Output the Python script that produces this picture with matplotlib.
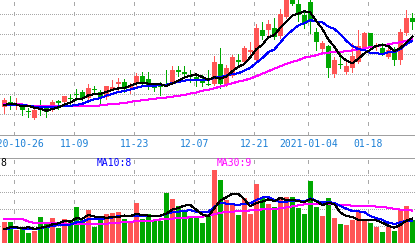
import numpy as np
import matplotlib
matplotlib.use("Agg")
import matplotlib.pyplot as plt

# ---------------- data ----------------
opens = [20.35, 20.60, 20.50, 20.40, 20.18, 19.84, 20.35, 20.33, 20.20, 20.65,
         20.62, 20.83, 21.03, 21.12, 20.83, 21.29, 21.10, 20.85, 21.29, 21.54,
         21.62, 21.34, 21.53, 21.90, 21.75, 21.35, 21.43, 21.48, 21.54, 22.23,
         22.10, 21.98, 21.85, 21.68, 21.53, 21.50, 22.50, 21.45, 21.90, 22.70,
         22.60, 23.09, 22.70, 24.20, 24.20, 24.29, 23.92, 24.84, 25.80, 25.50,
         24.95, 25.62, 24.12, 23.24, 23.40, 22.00, 22.50, 22.12, 22.32, 22.62,
         23.29, 24.04, 23.35, 23.32, 22.87, 23.12, 22.70, 24.04, 24.79]
closes = [20.73, 20.54, 20.58, 20.20, 20.13, 20.24, 20.23, 20.13, 20.62, 20.55,
          20.90, 20.75, 20.98, 20.79, 21.32, 21.23, 20.83, 21.40, 21.39, 21.62,
          21.29, 21.49, 21.90, 21.58, 21.40, 21.30, 21.38, 21.43, 22.20, 22.13,
          22.03, 21.85, 21.75, 21.55, 21.48, 22.62, 21.50, 22.30, 22.84, 22.60,
          23.32, 23.20, 24.30, 23.90, 24.50, 23.88, 25.00, 25.75, 25.50, 24.95,
          24.50, 24.70, 23.62, 23.54, 22.32, 22.70, 22.45, 22.40, 22.90, 23.40,
          24.04, 23.35, 23.43, 23.04, 23.20, 22.70, 24.12, 24.79, 24.62]
highs = [20.83, 20.90, 20.80, 20.45, 20.30, 20.25, 20.70, 20.45, 20.74, 20.74,
         20.93, 21.03, 21.29, 21.24, 21.50, 21.40, 21.20, 21.43, 21.70, 21.79,
         21.74, 21.57, 22.08, 22.10, 22.10, 21.57, 21.60, 22.20, 22.40, 22.40,
         22.40, 22.20, 22.00, 21.95, 22.20, 22.90, 23.29, 22.45, 22.95, 23.00,
         23.40, 23.62, 24.50, 24.60, 24.70, 24.79, 25.24, 25.95, 25.90, 25.70,
         25.12, 25.75, 24.29, 23.68, 23.45, 22.85, 23.10, 22.65, 23.54, 24.20,
         24.12, 24.05, 23.57, 23.57, 23.29, 23.37, 24.24, 25.20, 25.07]
lows = [20.08, 20.29, 20.25, 19.95, 19.88, 19.75, 19.98, 19.88, 20.18, 20.28,
        20.60, 20.45, 20.70, 20.70, 20.70, 21.04, 20.50, 20.75, 21.20, 21.20,
        21.12, 21.05, 21.30, 21.43, 21.29, 21.17, 20.95, 21.40, 21.50, 21.90,
        21.90, 21.62, 21.40, 21.40, 21.45, 21.48, 21.30, 21.40, 21.85, 22.45,
        22.55, 23.00, 22.62, 23.75, 23.80, 23.75, 23.80, 24.80, 25.45, 24.67,
        24.29, 24.05, 23.20, 23.04, 21.87, 21.85, 22.29, 22.00, 22.10, 22.54,
        23.20, 23.20, 23.20, 22.95, 22.79, 22.45, 22.50, 23.95, 24.24]
volumes = [7.47, 7.47, 6.56, 6.73, 6.12, 6.39, 8.08, 7.35, 7.96, 6.71,
           7.82, 7.71, 9.27, 7.74, 8.88, 6.92, 7.71, 8.41, 8.55, 8.68,
           7.80, 7.32, 9.74, 7.82, 8.41, 7.55, 7.55, 10.92, 10.18, 9.35,
           8.92, 7.88, 8.12, 7.39, 8.38, 13.59, 12.41, 10.00, 9.56, 8.29,
           10.29, 8.41, 11.94, 10.35, 9.59, 9.26, 10.39, 10.45, 10.45, 9.12,
           8.45, 12.21, 9.27, 8.18, 10.29, 7.94, 7.24, 7.12, 7.71, 8.61,
           7.71, 7.35, 6.88, 6.33, 6.92, 6.44, 9.04, 9.32, 7.65]

# moving-average values for the first days (their history is outside the view)
ma5_head = [20.49, 20.50, 20.50, 20.40]
ma10_head = [20.47, 20.47, 20.47, 20.47, 20.43, 20.39, 20.37, 20.37, 20.37]
ma30 = [20.54, 20.54, 20.54, 20.50, 20.43, 20.42, 20.42, 20.42, 20.42, 20.42,
        20.42, 20.42, 20.42, 20.42, 20.42, 20.42, 20.45, 20.49, 20.52, 20.54,
        20.57, 20.62, 20.68, 20.70, 20.74, 20.78, 20.82, 20.84, 20.88, 20.93,
        20.97, 21.04, 21.09, 21.18, 21.23, 21.30, 21.39, 21.47, 21.55, 21.64,
        21.70, 21.79, 21.90, 22.03, 22.15, 22.28, 22.40, 22.52, 22.62, 22.70,
        22.83, 22.88, 22.95, 23.04, 23.08, 23.10, 23.12, 23.15, 23.19, 23.24,
        23.29, 23.35, 23.40, 23.45, 23.49, 23.55, 23.60, 23.67, 23.75]
vol_ma5_head = [6.61, 6.85, 6.85, 6.71]
vol_ma10_head = [6.65, 6.71, 6.73, 6.71, 6.59, 6.59, 6.73, 6.88, 7.00]
vol_ma30 = [7.82, 7.82, 7.82, 7.82, 7.53, 7.35, 7.29, 7.29, 7.29, 7.29,
            7.29, 7.24, 7.24, 7.24, 7.24, 7.24, 7.24, 7.27, 7.32, 7.35,
            7.47, 7.51, 7.53, 7.53, 7.59, 7.65, 7.76, 7.82, 7.86, 7.91,
            7.94, 8.02, 8.06, 8.09, 8.24, 8.35, 8.53, 8.65, 8.68, 8.71,
            8.76, 8.82, 8.88, 8.94, 8.96, 9.00, 9.06, 9.18, 9.29, 9.41,
            9.53, 9.59, 9.59, 9.59, 9.55, 9.53, 9.47, 9.41, 9.39, 9.35,
            9.35, 9.32, 9.27, 9.24, 9.12, 9.00, 8.92, 8.85, 8.80]

tick_pos = [2, 12, 22, 32, 42, 51, 61]
tick_labels = ["2020-10-26", "11-09", "11-23", "12-07", "12-21", "2021-01-04", "01-18"]
vol_labels = ["8", "MA10:8", "MA30:9"]

# ---------------- helpers ----------------
def moving_avg(values, n, head):
    v = np.asarray(values, float)
    out = np.empty(len(v))
    for i in range(len(v)):
        out[i] = v[i - n + 1:i + 1].mean() if i >= n - 1 else head[i]
    return out

RED = "#FF5555"
GREEN = "#00A800"
GRID = "#A8A8A8"
FRAME = "#A0A0A0"
DATE_BLUE = "#1A7FD6"

W, H = 415, 243
fig = plt.figure(figsize=(W / 100, H / 100), dpi=100)
fig.patch.set_facecolor("white")

price_top, price_bot = 0, 134.5
vol_top = 157.7
axp = fig.add_axes([0, (H - price_bot) / H, 1, (price_bot - price_top) / H])
axv = fig.add_axes([0, 0, 1, (H - vol_top) / H])

n = len(closes)
x = np.arange(n)
o = np.array(opens); c = np.array(closes)
hi = np.array(highs); lo = np.array(lows)
up = c >= o
cols = [RED if u else GREEN for u in up]

xlim = (-4.3 / 6, (W - 4.3) / 6)
lw_px = 0.72
for ax in (axp, axv):
    ax.set_xlim(*xlim)
    ax.set_xticks([])
    ax.set_yticks([])
    for s in ax.spines.values():
        s.set_visible(False)
    for t in tick_pos:
        ax.axvline(t - 0.33, color=GRID, lw=lw_px, dashes=(4, 6), zorder=0,
                   antialiased=False)

axp.set_ylim(19.0, 25.7)
axv.set_ylim(5.0, 15.0)
axp.spines["bottom"].set_visible(True)
axp.spines["bottom"].set_color(FRAME)
axp.spines["bottom"].set_linewidth(lw_px)
axv.spines["top"].set_visible(True)
axv.spines["top"].set_color(FRAME)
axv.spines["top"].set_linewidth(lw_px)

for yv in [20, 21, 22, 23, 24, 25]:
    axp.axhline(yv, color=GRID, lw=lw_px, dashes=(1, 2), zorder=0, antialiased=False)
for yv in [7, 9, 11, 13]:
    axv.axhline(yv, color=GRID, lw=lw_px, dashes=(1, 2), zorder=0, antialiased=False)

# candles
bw = 0.8
min_h = 0.05
axp.vlines(x, lo, hi, colors=cols, lw=lw_px, zorder=2, antialiased=False)
bottoms = np.minimum(o, c)
heights = np.maximum(np.abs(c - o), min_h)
axp.bar(x, heights, bottom=bottoms, width=bw, color=cols, linewidth=0, zorder=3,
        antialiased=False)

# price moving averages
ma5 = moving_avg(closes, 5, ma5_head)
ma10 = moving_avg(closes, 10, ma10_head)
axp.plot(x, ma30, color="#FF00FF", lw=lw_px, zorder=4, antialiased=False)
axp.plot(x, ma10, color="#0000FF", lw=lw_px, zorder=4, antialiased=False)
axp.plot(x, ma5, color="black", lw=lw_px, zorder=4, antialiased=False)

# volume bars
axv.bar(x, np.array(volumes), width=bw, color=cols, linewidth=0, zorder=2,
        antialiased=False)
vma5 = moving_avg(volumes, 5, vol_ma5_head)
vma10 = moving_avg(volumes, 10, vol_ma10_head)
axv.plot(x, vol_ma30, color="#FF00FF", lw=lw_px, zorder=4, antialiased=False)
axv.plot(x, vma10, color="#0000FF", lw=lw_px, zorder=4, antialiased=False)
axv.plot(x, vma5, color="black", lw=lw_px, zorder=4, antialiased=False)

# date labels in the band between the panels
date_y = -(143.6 - price_bot) / (price_bot - price_top)
for t, lab in zip(tick_pos, tick_labels):
    axp.text(t - 0.33, date_y, lab, transform=axp.get_xaxis_transform(),
             ha="center", va="center", fontsize=7, family="DejaVu Sans Mono",
             color=DATE_BLUE, clip_on=False)

# volume legend texts
ly = (H - 163.4) / H
fig.text(0.4 / W, ly, vol_labels[0], ha="left", va="center", fontsize=7,
         family="DejaVu Sans Mono", color="black")
fig.text(96.7 / W, ly, vol_labels[1], ha="left", va="center", fontsize=7,
         family="DejaVu Sans Mono", color="#0000FF")
fig.text(216.7 / W, ly, vol_labels[2], ha="left", va="center", fontsize=7,
         family="DejaVu Sans Mono", color="#FF00FF")

fig.savefig("out.png", dpi=100, facecolor="white")
